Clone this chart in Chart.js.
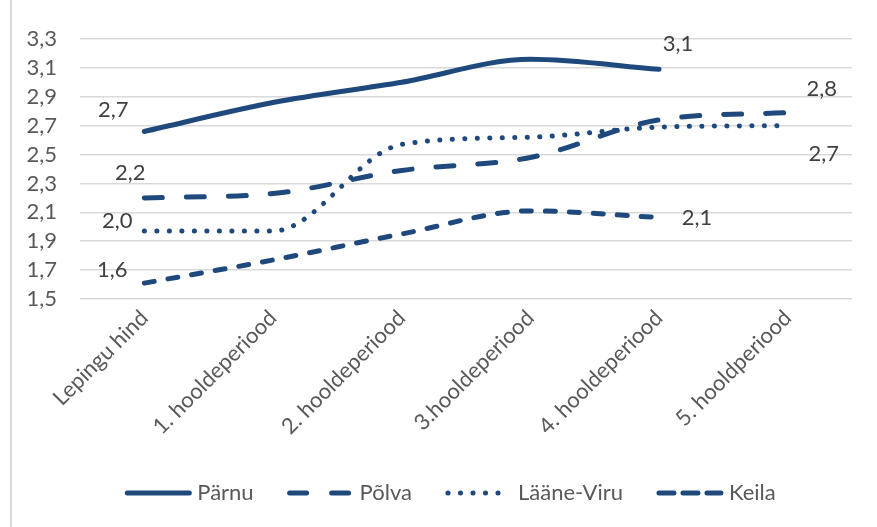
<!DOCTYPE html>
<html>
<head>
<meta charset="utf-8">
<style>
  html, body { margin: 0; padding: 0; background: #fff; }
  #wrap { position: relative; width: 877px; height: 527px; }
</style>
<script src="https://cdn.jsdelivr.net/npm/chart.js@4/dist/chart.umd.min.js"></script>
</head>
<body>
<div id="wrap"><canvas id="chart" width="877" height="527"></canvas></div>
<script>
const categories = ["Lepingu hind", "1. hooldeperiood", "2. hooldeperiood", "3.hooldeperiood", "4. hooldeperiood", "5. hooldperiood"];
const parnu = [2.66, 2.86, 3.0, 3.16, 3.09, null];
const polva = [2.2, 2.23, 2.39, 2.48, 2.74, 2.79];
const laaneViru = [1.97, 1.97, 2.57, 2.62, 2.69, 2.7];
const keila = [1.61, 1.77, 1.95, 2.11, 2.065, null];

// which points carry a value label, and the text shown
const parnuLabels = ["2,7", null, null, null, "3,1", null];
const polvaLabels = ["2,2", null, null, null, null, "2,8"];
const laaneViruLabels = ["2,0", null, null, null, null, "2,7"];
const keilaLabels = ["1,6", null, null, null, "2,1", null];

const BLUE = "#1F497D";
const FONT = "Lato, 'Noto Sans', sans-serif";

// label offsets from the point (px)
const labelShift = {
  "Pärnu": [[-31, -22], null, null, null, [19, -25], null],
  "Põlva": [[-14, -25], null, null, null, null, [34, -24]],
  "Lääne-Viru": [[-27, -10], null, null, null, null, [36, 28]],
  "Keila": [[-32, -13], null, null, null, [38, 1], null],
};

const valueLabels = {
  id: "valueLabels",
  afterDatasetsDraw(chart) {
    const ctx = chart.ctx;
    ctx.save();
    ctx.font = "22px " + FONT;
    ctx.fillStyle = "#404040";
    ctx.textAlign = "center";
    ctx.textBaseline = "middle";
    chart.data.datasets.forEach((ds, i) => {
      const meta = chart.getDatasetMeta(i);
      ds.valueText.forEach((t, j) => {
        if (!t) return;
        const p = meta.data[j];
        const s = labelShift[ds.label][j];
        ctx.fillText(t, p.x + s[0], p.y + s[1]);
      });
    });
    ctx.restore();
  }
};

const frameAndLegend = {
  id: "frameAndLegend",
  beforeDraw(chart) {
    const ctx = chart.ctx;
    ctx.save();
    ctx.strokeStyle = "#d9d9d9";
    ctx.lineWidth = 2;
    ctx.beginPath();
    ctx.moveTo(11, 0);
    ctx.lineTo(11, chart.height);
    ctx.stroke();
    ctx.restore();
  },
  afterDraw(chart) {
    const ctx = chart.ctx;
    const y = 493;
    const sample = 68, gapText = 5, gapItem = 33;
    ctx.save();
    ctx.font = "22px " + FONT;
    ctx.textBaseline = "middle";
    const items = chart.data.datasets.map(ds => ({ ds, w: ctx.measureText(ds.label).width }));
    let total = 0;
    items.forEach((it, k) => { total += sample + gapText + it.w + (k ? gapItem : 0); });
    let x = 450 - total / 2;
    items.forEach((it) => {
      const ds = it.ds;
      ctx.strokeStyle = ds.borderColor;
      ctx.lineWidth = ds.borderWidth;
      ctx.lineCap = "round";
      ctx.setLineDash(ds.legendDash || []);
      ctx.beginPath();
      ctx.moveTo(x + 3, y);
      ctx.lineTo(x + sample - 3, y);
      ctx.stroke();
      ctx.setLineDash([]);
      ctx.fillStyle = "#595959";
      ctx.fillText(ds.label, x + sample + gapText, y);
      x += sample + gapText + it.w + gapItem;
    });
    ctx.restore();
  }
};

const common = {
  borderColor: BLUE,
  backgroundColor: BLUE,
  borderWidth: 5,
  borderCapStyle: "round",
  pointRadius: 0,
  pointHoverRadius: 0,
  fill: false,
  cubicInterpolationMode: "monotone",
  spanGaps: false,
};

new Chart(document.getElementById("chart"), {
  type: "line",
  data: {
    labels: categories,
    datasets: [
      Object.assign({}, common, { label: "Pärnu", data: parnu, valueText: parnuLabels, borderDash: [], legendDash: [] }),
      Object.assign({}, common, { label: "Põlva", data: polva, valueText: polvaLabels, borderDash: [18, 24], legendDash: [17, 25] }),
      Object.assign({}, common, { label: "Lääne-Viru", data: laaneViru, valueText: laaneViruLabels, borderDash: [0.1, 12.4], legendDash: [0.1, 12.4] }),
      Object.assign({}, common, { label: "Keila", data: keila, valueText: keilaLabels, borderDash: [10, 14], legendDash: [15, 9] }),
    ]
  },
  options: {
    responsive: false,
    animation: false,
    events: [],
    layout: { padding: { top: 39, right: 25, left: 0, bottom: 0 } },
    plugins: { legend: { display: false }, tooltip: { enabled: false } },
    scales: {
      x: {
        offset: true,
        grid: { display: false, drawTicks: false },
        border: { display: false },
        afterFit(scale) { scale.height = 228; },
        ticks: {
          minRotation: 45,
          maxRotation: 45,
          autoSkip: false,
          padding: 6,
          color: "#595959",
          font: { family: FONT, size: 22 },
        }
      },
      y: {
        min: 1.5,
        max: 3.3,
        afterFit(scale) { scale.width = 80; },
        grid: { color: "#d9d9d9", lineWidth: 1.5, drawTicks: false },
        border: { display: false },
        ticks: {
          stepSize: 0.2,
          count: 10,
          autoSkip: false,
          padding: 23,
          color: "#595959",
          font: { family: FONT, size: 22, lineHeight: 1 },
          callback: (v) => Number(v).toFixed(1).replace(".", ","),
        }
      }
    }
  },
  plugins: [valueLabels, frameAndLegend]
});
</script>
</body>
</html>
